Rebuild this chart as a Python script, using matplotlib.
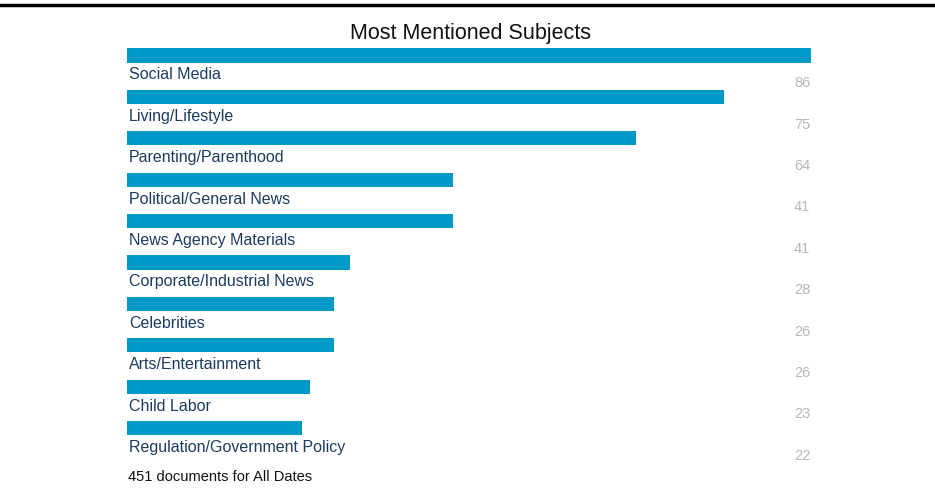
import matplotlib
matplotlib.use("Agg")
import matplotlib.pyplot as plt
from matplotlib.lines import Line2D

plt.rcParams['font.family'] = ['Liberation Sans', 'DejaVu Sans']

categories = ["Social Media", "Living/Lifestyle", "Parenting/Parenthood",
              "Political/General News", "News Agency Materials",
              "Corporate/Industrial News", "Celebrities", "Arts/Entertainment",
              "Child Labor", "Regulation/Government Policy"]
values = [86, 75, 64, 41, 41, 28, 26, 26, 23, 22]
title = "Most Mentioned Subjects"
footer = "451 documents for All Dates"

W, H = 935, 495
fig = plt.figure(figsize=(W / 100, H / 100), dpi=100)

# axes pixel geometry
x0, x1 = 127, 811
y_top, y_bot = 34.8, 490.2
ax = fig.add_axes([x0 / W, 1 - y_bot / H, (x1 - x0) / W, (y_bot - y_top) / H])
ax.set_xlim(0, max(values))
ax.set_ylim(len(categories) + 0.5, -0.5)
ax.axis('off')

pos = list(range(len(categories)))
ax.barh(pos, values, height=0.34, color='#0099c8', align='center')
for i, (c, v) in enumerate(zip(categories, values)):
    ax.text(0.25, i + 0.47, c, ha='left', va='center', fontsize=11.5, color='#1c3b60')
    ax.text(max(values) - 0.1, i + 0.67, str(v), ha='right', va='center', fontsize=10.5, color='#b8b8b8')

fig.text(470 / W, 1 - 34 / H, title, ha='center', va='center', fontsize=15.5, color='#111111')
fig.text(128 / W, 1 - 477 / H, footer, ha='left', va='center', fontsize=10.5, color='#111111')
fig.add_artist(Line2D([0, 1], [1 - 5 / H, 1 - 5 / H], transform=fig.transFigure, color='black', linewidth=2.5))

fig.savefig("out.png", dpi=100)
